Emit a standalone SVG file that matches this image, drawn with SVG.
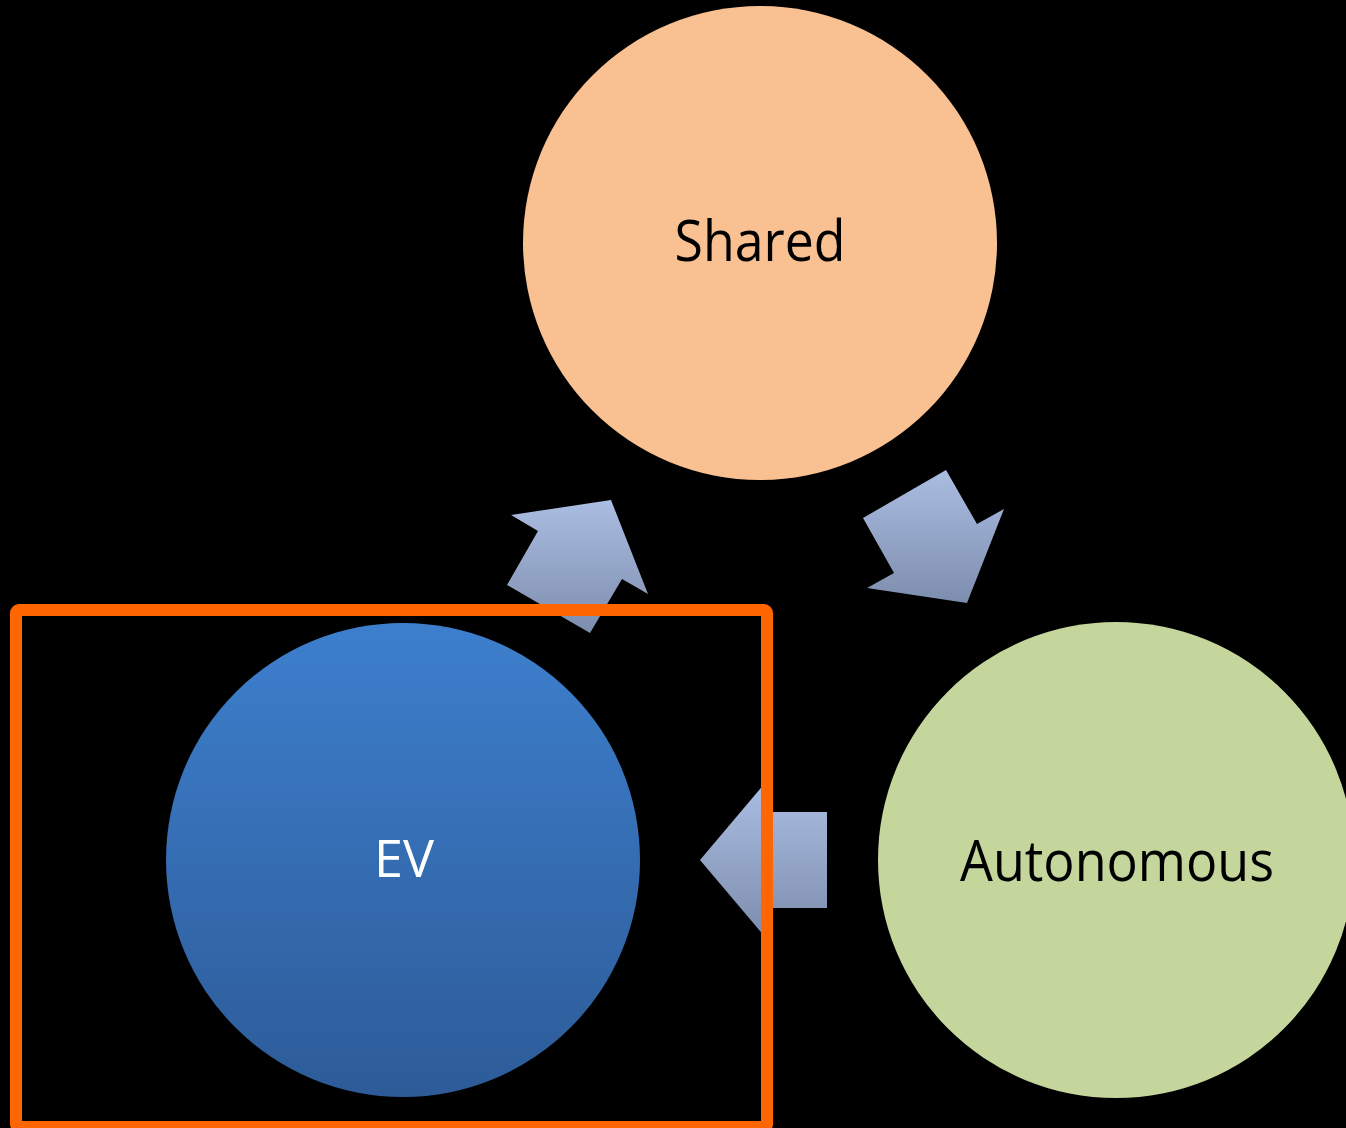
<svg xmlns="http://www.w3.org/2000/svg" width="1346" height="1128" viewBox="0 0 1346 1128">
  <style>
    .label { font-family: "Open Sans", "Liberation Sans", sans-serif; text-anchor: middle; }
    .dark { fill: #000000; }
    .light { fill: #ffffff; }
    .arrow { fill: url(#arrowFill); }
  </style>
  <defs>
    <linearGradient id="arrowFill" x1="0" y1="0" x2="0" y2="1">
      <stop offset="0" stop-color="#aabde2"/>
      <stop offset="1" stop-color="#7d8dad"/>
    </linearGradient>
    <linearGradient id="evFill" x1="0" y1="0" x2="0" y2="1">
      <stop offset="0" stop-color="#3d7fcd"/>
      <stop offset="1" stop-color="#2d5b98"/>
    </linearGradient>
  </defs>

  <rect x="0" y="0" width="1346" height="1128" fill="#000000"/>

  <!-- cycle arrows -->
  <g id="connectors">
    <polygon class="arrow" points="511,515 611,500 648,594 622,579 590,633 507,585 538,531"/>
    <polygon class="arrow" points="863,518 946,470 977,524 1004,509 967,603 867,588 894,573"/>
    <polygon class="arrow" points="700,860 765,783 765,812 827,812 827,908 765,908 765,937"/>
  </g>

  <g id="node-shared">
    <circle cx="760" cy="243" r="237" fill="#f9c091"/>
    <text class="label dark" x="760" y="261" font-size="57" textLength="171" lengthAdjust="spacingAndGlyphs">Shared</text>
  </g>

  <g id="node-autonomous">
    <circle cx="1116" cy="860" r="238" fill="#c4d69c"/>
    <text class="label dark" x="1117" y="881" font-size="57" textLength="314" lengthAdjust="spacingAndGlyphs">Autonomous</text>
  </g>

  <g id="node-ev">
    <circle cx="403" cy="860" r="237" fill="url(#evFill)"/>
    <text class="label light" x="404" y="877" font-size="52" textLength="60" lengthAdjust="spacingAndGlyphs">EV</text>
  </g>

  <!-- highlight frame around EV -->
  <g id="highlight">
    <rect x="16" y="610" width="751" height="517" rx="3" fill="none" stroke="#ff6600" stroke-width="12"/>
  </g>
</svg>
